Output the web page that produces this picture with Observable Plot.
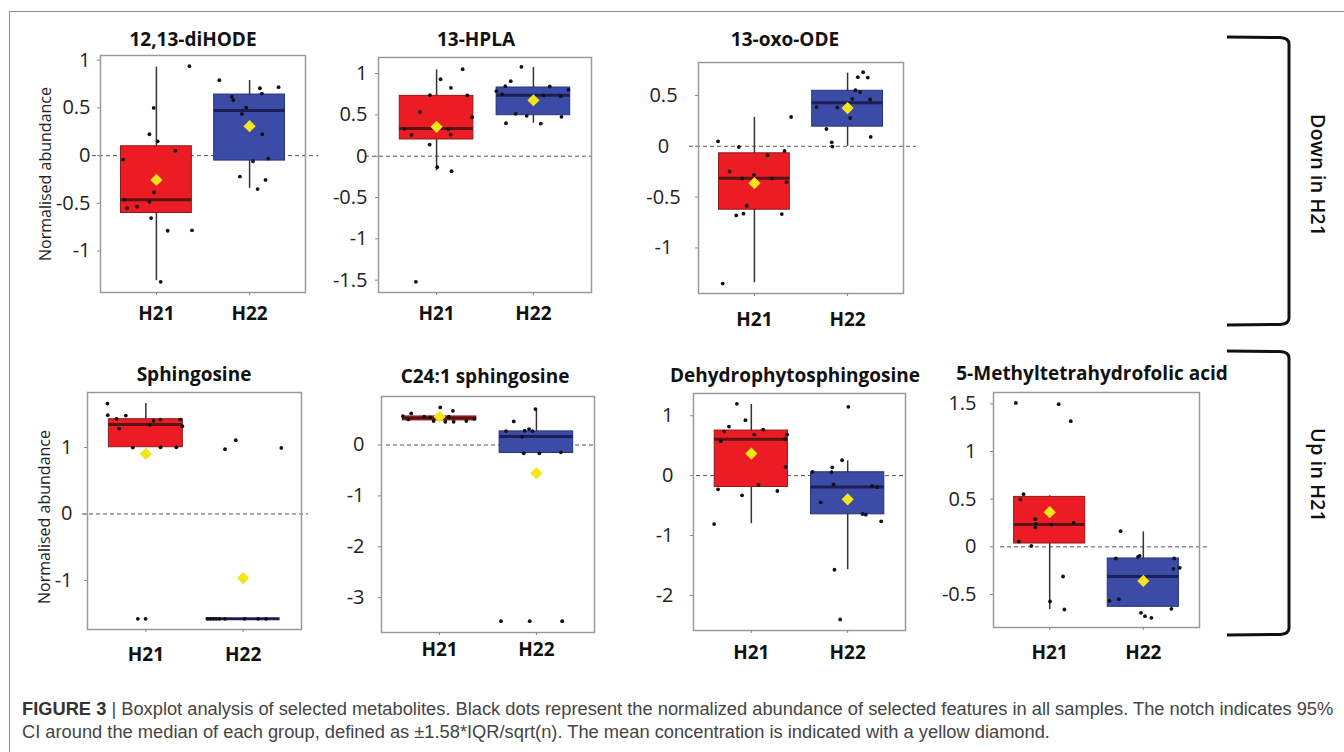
<!DOCTYPE html>
<html>
<head>
<meta charset="utf-8">
<script src="https://cdn.jsdelivr.net/npm/d3@7"></script>
<script src="https://cdn.jsdelivr.net/npm/@observablehq/plot@0.6"></script>
<style>
  body { margin: 0; background: #fff; }
  #fig { position: relative; width: 1344px; height: 752px; overflow: hidden; font-family: "Open Sans", sans-serif; background: #fff; }
  .border { position: absolute; left: 9px; top: 11px; width: 1400px; height: 800px; border-top: 1px solid #8a8a8a; border-left: 1px solid #8a8a8a; }
  .panel { position: absolute; }
  .title { position: absolute; transform: translate(-50%, -50%); font-weight: 700; font-size: 19px; white-space: nowrap; color: #111; }
  .ylab { position: absolute; transform: translate(-50%, -50%) rotate(-90deg); font-size: 16px; white-space: nowrap; color: #222; }
  .side { position: absolute; transform: translate(-50%, -50%) rotate(90deg); font-size: 20px; font-weight: 600; white-space: nowrap; color: #111; }
  .caption { position: absolute; left: 22px; white-space: nowrap; font-family: "Liberation Sans Narrow", "Arial Narrow", "Liberation Sans", sans-serif; font-size: 18.3px; color: #444; }
  .caption b { color: #333; }
  #brackets { position: absolute; left: 0; top: 0; }
</style>
</head>
<body>
<div id="fig"><div class="border"></div></div>
<script>
// Metabolites and groups
const metabolites = ["12,13-diHODE", "13-HPLA", "13-oxo-ODE", "Sphingosine", "C24:1 sphingosine", "Dehydrophytosphingosine", "5-Methyltetrahydrofolic acid"];
const groups = ["H21", "H22"];

// Box statistics per metabolite: [H21, H22]
const boxQ1 = [[-0.601, -0.052], [0.202, 0.496], [-0.624, 0.193], [1.005, -1.578], [0.484, -0.157], [-0.190, -0.647], [0.035, -0.629]];
const boxMedian = [[-0.462, 0.472], [0.335, 0.738], [-0.314, 0.428], [1.347, -1.578], [0.529, 0.170], [0.608, -0.190], [0.234, -0.311]];
const boxQ3 = [[0.098, 0.640], [0.730, 0.831], [-0.069, 0.546], [1.427, -1.578], [0.562, 0.268], [0.753, 0.056], [0.524, -0.122]];
const whiskerLow = [[-1.311, -0.343], [-0.177, 0.399], [-1.343, 0.0], [1.005, -1.578], [0.470, -0.157], [-0.803, -1.573], [-0.657, -0.629]];
const whiskerHigh = [[0.927, 0.787], [1.044, 1.073], [0.284, 0.719], [1.663, -1.578], [0.580, 0.706], [1.188, 0.245], [0.535, 0.157]];
const groupMeans = [[-0.255, 0.308], [0.355, 0.677], [-0.363, 0.376], [0.905, -0.965], [0.556, -0.556], [0.368, -0.396], [0.364, -0.357]];

// Individual samples: [jittered group position (1 = H21, 2 = H22), normalised abundance]
const samplesDiHODE = [
  [1.354, 0.937], [0.971, 0.50], [0.925, 0.224], [1.014, 0.150], [1.204, 0.052], [0.643, -0.042], [0.657, -0.462], [0.686, -0.549],
  [0.793, -0.535], [0.925, -0.483], [0.975, -0.385], [0.943, -0.654], [1.121, -0.787], [1.382, -0.783], [1.046, -1.322],
  [1.675, 0.790], [1.811, 0.615], [1.825, 0.580], [2.111, 0.706], [2.132, 0.650], [2.311, 0.717], [1.964, 0.503], [1.918, 0.437],
  [2.136, 0.224], [2.200, -0.031], [2.036, -0.059], [1.896, -0.220], [2.171, -0.255], [2.086, -0.350]
];
const samplesHPLA = [
  [1.041, 0.931], [1.269, 1.052], [1.148, 0.827], [0.931, 0.738], [1.317, 0.734], [0.828, 0.536], [1.366, 0.472], [0.666, 0.331],
  [0.741, 0.258], [1.121, 0.327], [1.145, 0.262], [0.928, 0.141], [1.007, -0.133], [1.155, -0.181], [0.786, -1.520],
  [1.876, 1.081], [1.766, 0.907], [1.710, 0.847], [1.617, 0.786], [1.676, 0.750], [2.169, 0.843], [2.103, 0.734], [2.283, 0.726],
  [2.362, 0.802], [1.817, 0.512], [1.931, 0.488], [2.290, 0.476], [1.717, 0.399], [2.076, 0.395]
];
const samplesOxoODE = [
  [0.610, 0.049], [0.833, -0.007], [1.394, 0.288], [1.142, -0.088], [1.323, -0.046], [0.734, -0.248], [0.869, -0.317], [0.996, -0.281],
  [1.188, -0.317], [1.344, -0.353], [0.918, -0.585], [0.805, -0.680], [0.883, -0.663], [1.294, -0.667], [0.660, -1.350],
  [2.167, 0.729], [2.110, 0.680], [2.216, 0.676], [2.085, 0.552], [2.135, 0.533], [2.050, 0.467], [2.241, 0.461], [1.667, 0.386],
  [1.890, 0.382], [2.028, 0.278], [1.773, 0.170], [2.248, 0.092], [1.830, 0.039], [1.837, -0.003]
];
const samplesSphingosine = [
  [0.605, 1.663], [0.608, 1.487], [0.698, 1.432], [0.794, 1.482], [0.725, 1.286], [1.079, 1.402], [1.041, 1.342], [1.148, 1.422],
  [1.354, 1.422], [1.375, 1.322], [0.866, 1.0], [1.151, 1.005], [1.313, 1.005], [0.918, -1.578], [0.997, -1.578],
  [1.814, 0.975], [1.924, 1.111], [2.392, 0.995], [1.636, -1.578], [1.663, -1.578], [1.691, -1.578], [1.722, -1.578],
  [1.756, -1.578], [1.814, -1.578], [2.014, -1.578], [2.155, -1.578], [2.237, -1.578]
];
const samplesC24 = [
  [1.007, 0.739], [0.707, 0.621], [0.621, 0.569], [0.676, 0.503], [0.841, 0.556], [1.138, 0.673], [0.938, 0.471], [1.059, 0.458],
  [1.145, 0.458], [1.276, 0.471], [1.359, 0.516], [1.097, 0.556], [0.903, 0.543],
  [1.990, 0.706], [1.766, 0.464], [1.686, 0.275], [1.879, 0.281], [1.924, 0.314], [1.959, 0.275], [1.852, 0.163], [1.869, -0.163],
  [2.031, -0.163], [2.252, -0.144], [1.634, -3.464], [1.931, -3.464], [2.266, -3.464]
];
const samplesDehydro = [
  [0.850, 1.199], [0.939, 0.926], [0.768, 0.820], [0.720, 0.736], [0.683, 0.574], [1.031, 0.686], [1.123, 0.770], [1.352, 0.608],
  [1.372, 0.686], [1.355, 0.145], [1.075, -0.151], [0.655, -0.229], [0.904, -0.329], [1.270, -0.257], [0.614, -0.809],
  [2.007, 1.149], [1.942, 0.257], [1.840, 0.139], [1.833, 0.056], [1.635, 0.061], [1.853, -0.145], [2.253, -0.173], [2.307, -0.190],
  [1.720, -0.446], [2.154, -0.641], [2.188, -0.653], [2.348, -0.764], [1.863, -1.573], [1.922, -2.404]
];
const samplesMTHF = [
  [0.639, 1.510], [1.096, 1.497], [1.225, 1.318], [0.721, 0.552], [0.686, 0.497], [0.846, 0.290], [0.854, 0.241], [0.846, 0.203],
  [1.018, 0.234], [1.257, 0.252], [0.671, 0.056], [0.804, 0.010], [1.143, -0.311], [1.004, -0.573], [1.157, -0.657],
  [1.757, 0.164], [1.961, -0.094], [1.943, -0.105], [1.707, -0.122], [2.329, -0.122], [2.389, -0.220], [2.321, -0.231],
  [1.639, -0.566], [1.739, -0.549], [2.300, -0.650], [1.975, -0.692], [2.018, -0.727], [2.086, -0.745]
];
const samples = [samplesDiHODE, samplesHPLA, samplesOxoODE, samplesSphingosine, samplesC24, samplesDehydro, samplesMTHF];

// Axis domains and tick values
const yDomains = [[-1.434, 1.049], [-1.649, 1.194], [-1.448, 0.824], [-1.739, 1.829], [-3.686, 0.954], [-2.588, 1.372], [-0.846, 1.619]];
const yTicks = [[-1, -0.5, 0, 0.5, 1], [-1.5, -1, -0.5, 0, 0.5, 1], [-1, -0.5, 0, 0.5], [-1, 0, 1], [-3, -2, -1, 0], [-2, -1, 0, 1], [-0.5, 0, 0.5, 1, 1.5]];

// Panel placement on the page (pixels)
const layout = [
  {frame: [100, 55, 305, 292], title: [193, 39], yPad: 7, yAnchor: "end", xPad: 11, dash: [-8, -13]},
  {frame: [378, 57, 591, 292], title: [476, 39], yPad: 8, yAnchor: "end", xPad: 11, dash: [-13, -1]},
  {frame: [698, 62, 903, 293], title: [785, 39], yPad: 32, yAnchor: "middle", xPad: 16, dash: [-9, -13]},
  {frame: [87, 392, 301, 629], title: [194, 374], yPad: 12, yAnchor: "end", xPad: 15, dash: [-5, -7]},
  {frame: [381, 396, 594, 632], title: [485, 376], yPad: 14, yAnchor: "end", xPad: 7, dash: [5, 1]},
  {frame: [693, 393, 905, 630], title: [795, 375], yPad: 17, yAnchor: "end", xPad: 12, dash: [3, 2]},
  {frame: [993, 392, 1199, 627], title: [1092, 373], yPad: 14, yAnchor: "end", xPad: 15, dash: [7, -8]}
];

const boxFill = ["#ec1c24", "#3b4ba6"];
const boxStroke = ["#8e1a1a", "#27337e"];
const medianStroke = ["#5a1414", "#1c1f55"];
const halfWidth = 0.38;

const fig = document.getElementById("fig");

metabolites.forEach((name, i) => {
  const L = layout[i];
  const [x0, y0, x1, y1] = L.frame;
  const mL = 80, mR = 24, mT = 10, mB = 45;
  const boxes = groups.map((g, j) => ({
    group: g, pos: j + 1,
    q1: boxQ1[i][j], median: boxMedian[i][j], q3: boxQ3[i][j],
    lo: whiskerLow[i][j], hi: whiskerHigh[i][j], mean: groupMeans[i][j],
    fill: boxFill[j], stroke: boxStroke[j], mstroke: medianStroke[j]
  }));

  const chart = Plot.plot({
    width: (x1 - x0) + mL + mR,
    height: (y1 - y0) + mT + mB,
    marginLeft: mL, marginRight: mR, marginTop: mT, marginBottom: mB,
    style: {fontFamily: "Open Sans, sans-serif", fontSize: "19px", overflow: "visible", background: "transparent"},
    x: {domain: [0.4, 2.6]},
    y: {domain: yDomains[i]},
    color: {type: "identity"},
    marks: [
      Plot.ruleY([0], {stroke: "#555", strokeWidth: 1, strokeDasharray: "4,3", insetLeft: L.dash[0], insetRight: L.dash[1]}),
      Plot.ruleX(boxes, {x: "pos", y1: "lo", y2: "hi", stroke: "#333", strokeWidth: 1.5}),
      Plot.rect(boxes, {x1: d => d.pos - halfWidth, x2: d => d.pos + halfWidth, y1: "q1", y2: "q3", fill: "fill", stroke: "stroke", strokeWidth: 1}),
      Plot.ruleY(boxes, {x1: d => d.pos - halfWidth, x2: d => d.pos + halfWidth, y: "median", stroke: "mstroke", strokeWidth: 3}),
      Plot.dot(samples[i], {x: d => d[0], y: d => d[1], r: 1.9, fill: "#111", stroke: "none"}),
      Plot.dot(boxes, {x: "pos", y: "mean", symbol: "diamond2", r: 5.5, fill: "#f4e41c", stroke: "none"}),
      Plot.frame({stroke: "#9a9a9a", strokeWidth: 1.5}),
      Plot.axisY({ticks: yTicks[i], tickSize: 3, tickPadding: L.yPad, textAnchor: L.yAnchor, tickFormat: d => String(d), fontSize: 20, stroke: "#888", fill: "#222", label: null}),
      Plot.axisX({ticks: [1, 2], tickSize: 3, tickPadding: L.xPad, tickFormat: d => groups[d - 1], fontSize: 19, fontWeight: "bold", stroke: "#888", fill: "#111", label: null})
    ]
  });
  chart.classList.add("panel");
  chart.style.left = (x0 - mL) + "px";
  chart.style.top = (y0 - mT) + "px";
  fig.appendChild(chart);

  const t = document.createElement("div");
  t.className = "title";
  t.textContent = name;
  t.style.left = L.title[0] + "px";
  t.style.top = L.title[1] + "px";
  fig.appendChild(t);
});

// Shared y-axis labels for each row
[[45, 174], [44, 517]].forEach(([cx, cy]) => {
  const d = document.createElement("div");
  d.className = "ylab";
  d.textContent = "Normalised abundance";
  d.style.left = cx + "px";
  d.style.top = cy + "px";
  fig.appendChild(d);
});

// Brackets grouping the rows
const svg = d3.select(fig).append("svg").attr("id", "brackets").attr("width", 1344).attr("height", 752);
[[37, 325], [351, 635]].forEach(([top, bottom]) => {
  const p = d3.path();
  p.moveTo(1227, top);
  p.lineTo(1280, top + 0.5);
  p.quadraticCurveTo(1289, top + 1, 1289, top + 7);
  p.lineTo(1289, bottom - 7);
  p.quadraticCurveTo(1289, bottom - 1, 1280, bottom - 0.5);
  p.lineTo(1227, bottom);
  svg.append("path").attr("d", p.toString()).attr("fill", "none").attr("stroke", "#111").attr("stroke-width", 3);
});
[["Down in H21", 1318, 175], ["Up in H21", 1318, 475]].forEach(([txt, cx, cy]) => {
  const d = document.createElement("div");
  d.className = "side";
  d.textContent = txt;
  d.style.left = cx + "px";
  d.style.top = cy + "px";
  fig.appendChild(d);
});

// Figure caption
const cap1 = document.createElement("div");
cap1.className = "caption";
cap1.style.top = "698px";
cap1.innerHTML = "<b>FIGURE 3</b> | Boxplot analysis of selected metabolites. Black dots represent the normalized abundance of selected features in all samples. The notch indicates 95%";
fig.appendChild(cap1);
const cap2 = document.createElement("div");
cap2.className = "caption";
cap2.style.top = "721px";
cap2.textContent = "CI around the median of each group, defined as ±1.58*IQR/sqrt(n). The mean concentration is indicated with a yellow diamond.";
fig.appendChild(cap2);
</script>
</body>
</html>
